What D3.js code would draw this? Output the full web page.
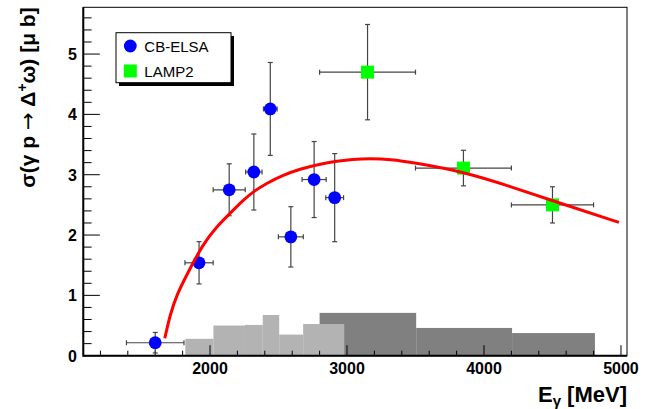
<!DOCTYPE html>
<html lang="en">
<head>
<meta charset="utf-8">
<title>Delta omega cross section</title>
<script src="https://d3js.org/d3.v7.min.js"></script>
<style>
  body { margin: 0; background: #fff; }
  svg text { font-family: "Liberation Sans", Arial, sans-serif; }
</style>
</head>
<body>
<svg id="svg" width="661" height="409"></svg>
<script>
// CB-ELSA points
var elsaE    = [1600, 1920, 2140, 2320, 2440, 2590, 2760, 2910];
var elsaV    = [0.215, 1.54, 2.75, 3.045, 4.09, 1.97, 2.92, 2.62];
var elsaEerr = [210, 103, 117, 60, 50, 91, 88, 65];
var elsaErr  = [0.17, 0.35, 0.43, 0.63, 0.77, 0.50, 0.63, 0.73];

// LAMP2 points
var lampE    = [3150, 3850, 4500];
var lampV    = [4.70, 3.11, 2.50];
var lampEerr = [350, 350, 300];
var lampErr  = [0.79, 0.295, 0.30];

// systematic error bands (bin edges + heights)
var elsaSysEdges = [1820, 2025, 2255, 2385, 2505, 2680, 2980];
var elsaSys      = [0.28, 0.50, 0.51, 0.675, 0.35, 0.525];
var lampSysEdges = [2800, 3505, 4205, 4810];
var lampSys      = [0.71, 0.46, 0.375];

// fit curve
var fitE = [1670, 1708, 1757, 1830, 1951, 2049, 2146, 2243, 2316, 2414, 2535, 2657, 2790, 2910, 3040, 3168, 3320, 3484, 3849, 4214, 4579, 4985];
var fitV = [0.29, 0.675, 1.01, 1.34, 1.86, 2.14, 2.36, 2.58, 2.72, 2.86, 2.995, 3.095, 3.17, 3.22, 3.255, 3.27, 3.255, 3.20, 3.05, 2.79, 2.51, 2.21];

var xTicks = [2000, 3000, 4000, 5000];
var yTicks = [0, 1, 2, 3, 4, 5];
var legendNames = ["CB-ELSA", "LAMP2"];

var L = 83.3, R = 627, T = 7.3, B = 355.7;
var x = d3.scaleLinear().domain([1075, 5044]).range([L, R]);
var y = d3.scaleLinear().domain([0, 5.775]).range([B, T]);

var svg = d3.select("#svg");

// systematics histograms (dark first, light on top)
function bars(edges, vals, col) {
    svg.append("g").selectAll("rect").data(vals).enter().append("rect")
        .attr("x", function(d, i) { return x(edges[i]); })
        .attr("width", function(d, i) { return x(edges[i + 1]) - x(edges[i]); })
        .attr("y", function(d) { return y(d); })
        .attr("height", function(d) { return B - y(d); })
        .attr("fill", col);
}
bars(lampSysEdges, lampSys, "#808080");
bars(elsaSysEdges, elsaSys, "#b3b3b3");

// frame
svg.append("rect").attr("x", L).attr("y", T).attr("width", R - L).attr("height", B - T)
    .attr("fill", "none").attr("stroke", "#000").attr("stroke-width", 1);
svg.append("line").attr("x1", L).attr("x2", L).attr("y1", T).attr("y2", B + 1)
    .attr("stroke", "#000").attr("stroke-width", 2);
svg.append("line").attr("x1", L).attr("x2", R).attr("y1", B).attr("y2", B)
    .attr("stroke", "#000").attr("stroke-width", 2);

// y ticks
var gy = svg.append("g");
d3.range(0, 5.8, 0.2).forEach(function(v) {
    var major = Math.abs(v - Math.round(v)) < 1e-6;
    gy.append("line").attr("x1", L).attr("x2", L + (major ? 16.5 : 8.3))
        .attr("y1", y(v)).attr("y2", y(v)).attr("stroke", "#000").attr("stroke-width", 1);
});
gy.selectAll("text").data(yTicks).enter().append("text")
    .attr("x", 77).attr("y", function(d) { return y(d) + 6; })
    .attr("text-anchor", "end").attr("font-size", 16).attr("font-weight", "bold")
    .text(function(d) { return d; });

// x ticks
var gx = svg.append("g");
d3.range(1200, 5044, 200).forEach(function(e) {
    var major = e % 1000 === 0;
    gx.append("line").attr("x1", x(e)).attr("x2", x(e))
        .attr("y1", B).attr("y2", B - (major ? 10.5 : 5))
        .attr("stroke", "#000").attr("stroke-width", 1);
});
gx.selectAll("text").data(xTicks).enter().append("text")
    .attr("x", function(d) { return x(d); }).attr("y", 373.5)
    .attr("text-anchor", "middle").attr("font-size", 16).attr("font-weight", "bold")
    .text(function(d) { return d; });

// axis titles
var xt = svg.append("text").attr("x", R).attr("y", 401.5).attr("text-anchor", "end")
    .attr("font-size", 22).attr("font-weight", "bold");
xt.append("tspan").text("E");
xt.append("tspan").attr("font-size", 15).attr("dy", 4).text("γ");
xt.append("tspan").attr("dy", -4).text(" [MeV]");

var yt = svg.append("text").attr("transform", "translate(35," + T + ") rotate(-90)")
    .attr("text-anchor", "end").attr("font-size", 21).attr("font-weight", "bold");
yt.append("tspan").text("σ(γ p ");
yt.append("tspan").attr("font-family", "DejaVu Sans").attr("font-weight", "normal").text("→");
yt.append("tspan").text(" Δ");
yt.append("tspan").attr("font-size", 14).attr("dy", -8).text("+");
yt.append("tspan").attr("dy", 8).text("ω) [μ b]");

// error bars
function errors(E, V, ex, ey) {
    var g = svg.append("g").attr("stroke", "#444").attr("stroke-width", 1.2);
    E.forEach(function(e, i) {
        var cx = x(e), cy = y(V[i]);
        var x0 = x(e - ex[i]), x1 = x(e + ex[i]);
        var y0 = y(V[i] - ey[i]), y1 = y(V[i] + ey[i]);
        g.append("line").attr("x1", x0).attr("x2", x1).attr("y1", cy).attr("y2", cy);
        g.append("line").attr("x1", cx).attr("x2", cx).attr("y1", y0).attr("y2", y1);
        [x0, x1].forEach(function(xx) {
            g.append("line").attr("x1", xx).attr("x2", xx).attr("y1", cy - 2.5).attr("y2", cy + 2.5);
        });
        [y0, y1].forEach(function(yy) {
            g.append("line").attr("x1", cx - 2.5).attr("x2", cx + 2.5).attr("y1", yy).attr("y2", yy);
        });
    });
}
errors(elsaE, elsaV, elsaEerr, elsaErr);
errors(lampE, lampV, lampEerr, lampErr);

// markers
svg.append("g").selectAll("circle").data(elsaE).enter().append("circle")
    .attr("cx", function(d) { return x(d); })
    .attr("cy", function(d, i) { return y(elsaV[i]); })
    .attr("r", 6.4).attr("fill", "#0000ff");
svg.append("g").selectAll("rect").data(lampE).enter().append("rect")
    .attr("x", function(d) { return x(d) - 6.5; })
    .attr("y", function(d, i) { return y(lampV[i]) - 6.5; })
    .attr("width", 13).attr("height", 13).attr("fill", "#00ff00");

// fit curve
var fit = fitE.map(function(e, i) { return [e, fitV[i]]; });
svg.append("path").datum(fit)
    .attr("d", d3.line().x(function(d) { return x(d[0]); }).y(function(d) { return y(d[1]); })
        .curve(d3.curveBasis))
    .attr("fill", "none").attr("stroke", "#ff0000").attr("stroke-width", 3);

// legend
var lg = svg.append("g");
lg.append("rect").attr("x", 119).attr("y", 36).attr("width", 115).attr("height", 50).attr("fill", "#000");
lg.append("rect").attr("x", 116).attr("y", 32.7).attr("width", 115).attr("height", 50)
    .attr("fill", "#fff").attr("stroke", "#000").attr("stroke-width", 1);
lg.append("circle").attr("cx", 130.3).attr("cy", 46).attr("r", 6.4).attr("fill", "#0000ff");
lg.append("rect").attr("x", 123.8).attr("y", 64.5).attr("width", 13).attr("height", 13).attr("fill", "#00ff00");
lg.selectAll("text").data(legendNames).enter().append("text")
    .attr("x", 144.3).attr("y", function(d, i) { return 51.5 + i * 25; })
    .attr("font-size", 15).text(function(d) { return d; });
</script>
</body>
</html>
